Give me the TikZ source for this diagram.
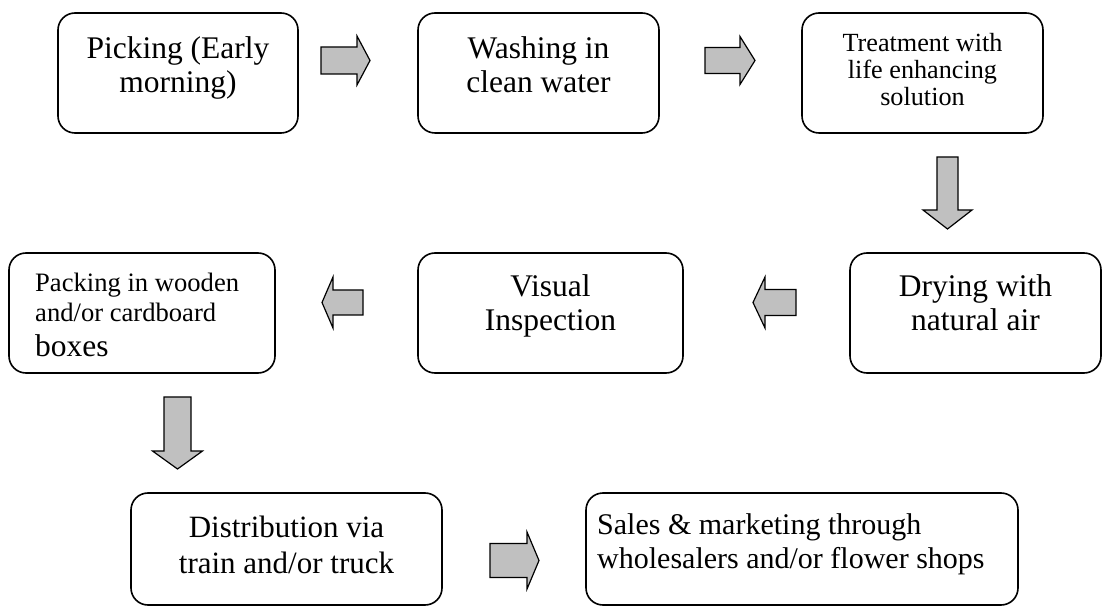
\documentclass[tikz,border=0pt]{standalone}
\usepackage{fontspec}
\setmainfont{Liberation Serif}
\definecolor{arrgray}{HTML}{C0C0C0}
\newcommand\mainfs{\fontsize{31.5}{34}\selectfont}
\newcommand\treatfs{\fontsize{26.2}{27}\selectfont}
\newcommand\packfs{\fontsize{26.6}{30}\selectfont}
\newcommand\distfs{\fontsize{31}{36}\selectfont}
\newcommand\salesfs{\fontsize{30}{34}\selectfont}
\tikzset{
  pics/barrow/.style n args={4}{code={
    \coordinate (-c) at (0,0);
    \draw[arr] (-#1/2,-#2/2) -- (#1/2-#4,-#2/2) -- (#1/2-#4,-#3/2) -- (#1/2,0)
      -- (#1/2-#4,#3/2) -- (#1/2-#4,#2/2) -- (-#1/2,#2/2) -- cycle;
  }}
}
\begin{document}
\begin{tikzpicture}[x=1pt,y=-1pt,
  box/.style={draw, line width=1.6pt, rounded corners=17pt, inner sep=0pt},
  txt/.style={inner sep=0pt, align=center},
  ltxt/.style={inner sep=0pt, align=left},
  arr/.style={draw, line width=1.2pt, fill=arrgray, line join=miter},
]
\useasboundingbox (0,0) rectangle (1103,609);

% boxes
\node[box, minimum width=240pt, minimum height=120pt] (pick) at (178,73) {};
\node[box, minimum width=241pt, minimum height=120pt] (wash) at (538.5,73) {};
\node[box, minimum width=241pt, minimum height=120pt] (treat) at (922.5,73) {};
\node[box, minimum width=251pt, minimum height=120pt] (dry) at (975.5,313) {};
\node[box, minimum width=265pt, minimum height=120pt] (vis) at (550.5,313) {};
\node[box, minimum width=266pt, minimum height=120pt] (pack) at (142,313) {};
\node[box, minimum width=311pt, minimum height=112pt] (dist) at (286.5,549) {};
\node[box, minimum width=432pt, minimum height=112pt] (sales) at (802,549) {};

% texts (anchor=base is the baseline of the last line)
\node[txt, font=\mainfs, anchor=base] (pickt) at (178,93) {Picking (Early\\morning)};
\node[txt, font=\mainfs, anchor=base] (washt) at (538.5,93) {Washing in\\clean water};
\node[txt, font=\treatfs, anchor=base] (treatt) at (922.5,106) {Treatment with\\life enhancing\\solution};
\node[txt, font=\mainfs, anchor=base] (dryt) at (975.5,331) {Drying with\\natural air};
\node[txt, font=\mainfs, anchor=base] (vist) at (550.5,331) {Visual\\Inspection};
\node[ltxt, font=\packfs, anchor=base west] (packt) at (35,357) {Packing in wooden\\and/or cardboard\\[5pt]{\fontsize{31.5}{34}\selectfont boxes}};
\node[txt, font=\distfs, anchor=base] (distt) at (286.5,573) {Distribution via\\train and/or truck};
\node[ltxt, font=\salesfs, anchor=base west] (salest) at (597,568) {Sales \& marketing through\\wholesalers and/or flower shops};

% block arrows
\pic (a1) at (345.5,60.5) {barrow={49}{27}{49}{13}};
\pic (a2) at (730,60.5) {barrow={50}{26}{48}{15}};
\pic[rotate=-90] (d1) at (947.5,193) {barrow={72}{21}{49}{19}};
\pic[rotate=180] (l2) at (774.5,302.5) {barrow={43}{26}{51}{12}};
\pic[rotate=180] (l1) at (342.5,302.5) {barrow={41}{25}{51}{11}};
\pic[rotate=-90] (d2) at (177.5,433) {barrow={72}{27}{50}{18}};
\pic (r3) at (514.5,560.5) {barrow={49}{34}{57}{12}};
\end{tikzpicture}
\end{document}
